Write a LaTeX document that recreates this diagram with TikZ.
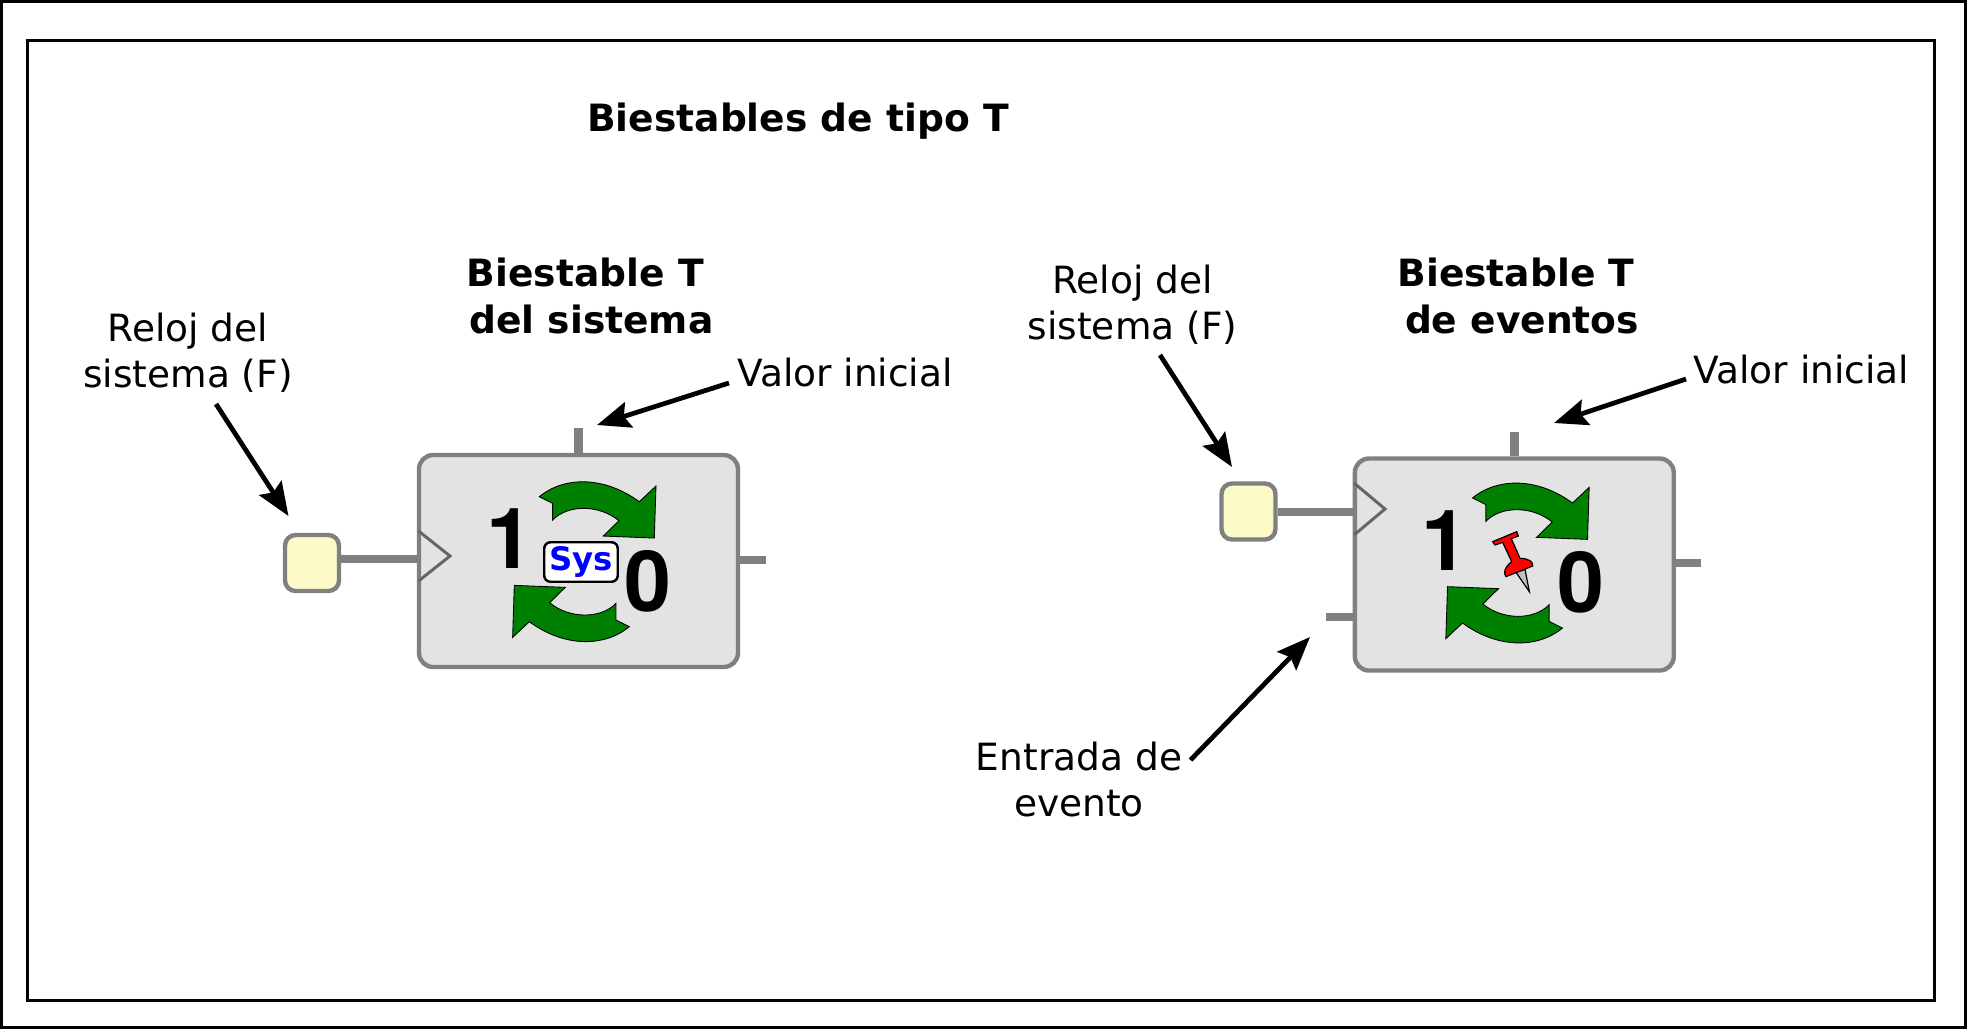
\documentclass[tikz,border=0pt]{standalone}
\usepackage{fontspec}
\setmainfont{DejaVu Sans}
\newfontfamily\digitface{TeX Gyre Heros}
\usetikzlibrary{arrows.meta}
\definecolor{blockgray}{HTML}{E3E3E3}
\definecolor{wiregray}{HTML}{808080}
\definecolor{clockyellow}{HTML}{FBFAC8}
\definecolor{cyclegreen}{HTML}{008000}
\newcommand{\labelfont}{\fontsize{21.35}{26.4}\selectfont}
\newcommand{\titlefont}{\fontsize{21.4}{26.4}\selectfont\bfseries}
\newcommand{\digitfont}{\fontsize{48}{48}\digitface\selectfont\bfseries}
\tikzset{
  frame/.style={draw=black, line width=1.7pt},
  block/.style={draw=wiregray, fill=blockgray, line width=2.5pt, rounded corners=8pt,
    minimum width=6.38cm, minimum height=4.24cm, inner sep=0pt},
  clockbox/.style={draw=wiregray, fill=clockyellow, line width=2.5pt, rounded corners=6pt,
    minimum width=1.08cm, minimum height=1.12cm, inner sep=0pt},
  sysbox/.style={draw=black, fill=white, line width=1.4pt, rounded corners=3.5pt,
    minimum width=1.47cm, minimum height=0.79cm, inner sep=0pt,
    text=blue, font=\fontsize{18.4}{20}\selectfont\bfseries},
  wire/.style={draw=wiregray, line width=5pt},
  clocktri/.style={draw=wiregray!80!black, line width=1.7pt},
  note/.style={draw=black, line width=2.7pt, -{Stealth[length=19pt,width=15pt,inset=3pt]}},
  zoomed/.style={x=0.00667cm, y=-0.00667cm},
  cycleshape/.style={zoomed, draw=black, fill=cyclegreen, line width=0.5pt},
  pinshape/.style={zoomed, draw=black, line width=0.7pt},
  cyclearrows/.pic={
    \path [cycleshape] (-135,-195) .. controls (-60,-257) and (60,-257) .. (165,-180)
      -- (215,-227) -- (210,-71) -- (57,-77) -- (104,-123)
      .. controls (45,-172) and (-50,-172) .. (-95,-125) -- (-95,-175) -- cycle;
    \path [cycleshape, rotate=180] (-135,-195) .. controls (-60,-257) and (60,-257) .. (165,-180)
      -- (215,-227) -- (210,-71) -- (57,-77) -- (104,-123)
      .. controls (45,-172) and (-50,-172) .. (-95,-125) -- (-95,-175) -- cycle;
  },
}
\begin{document}
\begin{tikzpicture}[x=0.02cm, y=-0.02cm]
      \useasboundingbox (0,0) rectangle (1967,1029);
      \draw [frame] (1.5,1.5) rectangle (1965.5,1027.5);
      \draw [frame] (27.5,40) rectangle (1934,1000);
      \node [font=\titlefont]                  (title) at ( 798, 121) {Biestables de tipo T};
      % system flip-flop
      \node [font=\labelfont, align=center]    (clkA)  at ( 188, 353) {Reloj del\\sistema (F)};
      \node [font=\titlefont, align=center]    (nameA) at ( 591.5, 296) {Biestable T\hspace*{7pt}\\del sistema};
      \node [font=\labelfont]                  (valA)  at ( 845, 372.5) {Valor inicial};
      \coordinate (tipclkA) at ( 288.5, 516);
      \coordinate (tipvalA) at ( 597, 425);
      \coordinate (initA)   at ( 578.5, 428);
      \coordinate (outA)    at ( 766, 560);
      \coordinate (clkinA)  at ( 419, 559);
      \node [block]                            (blockA) at ( 578.5, 561) {};
      \node [clockbox]                         (boxA)   at ( 312, 563) {};
      \draw [wire] (boxA.east |- clkinA) -- (clkinA);
      \draw [wire] (initA) -- (blockA.north);
      \draw [wire] (outA) -- (outA -| blockA.east);
      \draw [clocktri] (418.5,531) -- (450,556) -- (418.5,581);
      \pic at (584.3, 561.7) {cyclearrows};
      \node [font=\digitfont]                  (oneA)  at ( 509.5, 539) {1};
      \node [font=\digitfont]                  (zeroA) at ( 647.5, 581) {0};
      \node [sysbox]                           (sysA)  at ( 581, 562) {Sys};
      \draw [note] ([shift={(-116,10.5)}]valA.center) -- (tipvalA);
      \draw [note] ([shift={(28,51)}]clkA.center) -- (tipclkA);
      % event flip-flop
      \node [font=\labelfont, align=center]    (clkB)  at (1132.5, 304.5) {Reloj del\\sistema (F)};
      \node [font=\titlefont, align=center]    (nameB) at (1522, 296) {Biestable T\hspace*{7pt}\\de eventos};
      \node [font=\labelfont]                  (valB)  at (1801.5, 369.5) {Valor inicial};
      \node [font=\labelfont, align=center]    (evtB)  at (1079, 779.5) {Entrada de\\evento};
      \coordinate (tipclkB) at (1232, 467);
      \coordinate (tipvalB) at (1554, 423);
      \coordinate (tipevtB) at (1310, 637);
      \coordinate (initB)   at (1514.3, 432);
      \coordinate (outB)    at (1701, 563);
      \coordinate (clkinB)  at (1354, 512);
      \coordinate (eventB)  at (1326, 617);
      \node [block]                            (blockB) at (1514.3, 564.5) {};
      \node [clockbox]                         (boxB)   at (1248.5, 511.5) {};
      \draw [wire] (boxB.east |- clkinB) -- (clkinB);
      \draw [wire] (initB) -- (blockB.north);
      \draw [wire] (outB) -- (outB -| blockB.east);
      \draw [wire] (eventB) -- (eventB -| blockB.west);
      \draw [clocktri] (1354,483) -- (1385,509) -- (1354,535);
      \pic at (1517.5, 563) {cyclearrows};
      \node [font=\digitfont]                  (oneB)  at (1445, 541) {1};
      \node [font=\digitfont]                  (zeroB) at (1580.5, 582.5) {0};
      \path [shift={(1470,510)}, pinshape, fill=black!25] (138,187) -- (165,178) -- (178,245) -- cycle;
      \path [shift={(1470,510)}, pinshape, fill=red] (68,95) -- (140,65) -- (145,78) -- (124,86) -- (150,145)
        .. controls (175,145) and (190,155) .. (188,168) -- (108,200)
        .. controls (98,190) and (105,170) .. (125,155) -- (98,97) -- (75,105) -- cycle;
      \draw [note] ([shift={(27.5,50.5)}]clkB.center) -- (tipclkB);
      \draw [note] ([shift={(-115.5,9.5)}]valB.center) -- (tipvalB);
      \draw [note] ([shift={(111.5,-19.5)}]evtB.center) -- (tipevtB);
      \end{tikzpicture}
\end{document}
